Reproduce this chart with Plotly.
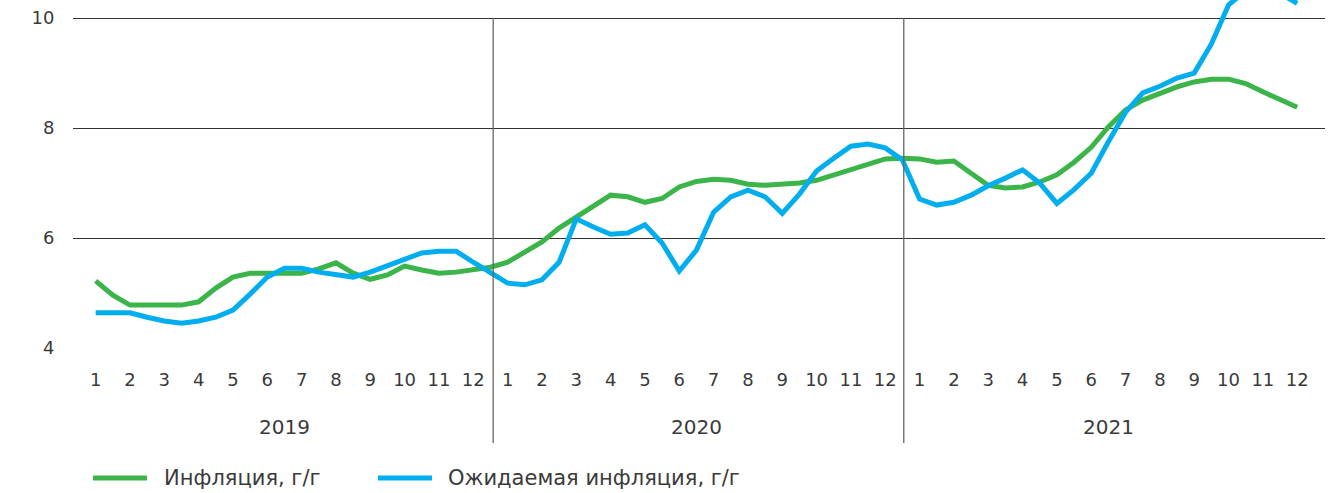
import plotly.graph_objects as go

years = ["2019", "2020", "2021"]
months = [str(m) for m in range(1, 13)]

# half-month steps starting at Jan 2019 (index in months, 0 = Jan 2019)
inflation = [
    5.22, 4.96, 4.78, 4.78, 4.78, 4.78, 4.84, 5.09, 5.29, 5.36, 5.36, 5.36,
    5.36, 5.44, 5.55, 5.36, 5.25, 5.33, 5.49, 5.42, 5.36, 5.38, 5.42, 5.47,
    5.56, 5.75, 5.93, 6.18, 6.38, 6.56, 6.78, 6.75, 6.65, 6.72, 6.93, 7.03,
    7.07, 7.05, 6.98, 6.96, 6.97, 7.00, 7.05, 7.15, 7.24, 7.33, 7.44, 7.45,
    7.44, 7.38, 7.40, 7.18, 6.96, 6.91, 6.93, 7.02, 7.15, 7.38, 7.65, 8.02,
    8.33, 8.51, 8.63, 8.75, 8.84, 8.89, 8.89, 8.81, 8.66, 8.52, 8.38,
]
expected = [
    4.64, 4.64, 4.64, 4.56, 4.49, 4.45, 4.49, 4.56, 4.69, 4.98, 5.29, 5.45,
    5.45, 5.38, 5.33, 5.29, 5.38, 5.49, 5.60, 5.73, 5.76, 5.76, 5.56, 5.38,
    5.18, 5.15, 5.24, 5.56, 6.35, 6.20, 6.07, 6.09, 6.24, 5.91, 5.40, 5.78,
    6.47, 6.75, 6.87, 6.75, 6.45, 6.80, 7.22, 7.45, 7.67, 7.71, 7.64, 7.42,
    6.71, 6.60, 6.65, 6.78, 6.95, 7.09, 7.24, 7.00, 6.63, 6.88, 7.18, 7.75,
    8.29, 8.64, 8.76, 8.91, 9.00, 9.53, 10.24, 10.50, 10.60, 10.45, 10.27,
]
series_names = ["Инфляция, г/г", "Ожидаемая инфляция, г/г"]
colors = ["#3BB54A", "#00AEEF"]

x_pos = [k * 0.5 for k in range(len(inflation))]
tick_vals = list(range(len(years) * 12))
tick_text = [m for _ in years for m in months]

FONT = "DejaVu Sans"
TXT = "#3a3a3a"

fig = go.Figure()
for name, vals, col in zip(series_names, [inflation, expected], colors):
    fig.add_trace(go.Scatter(
        x=x_pos, y=vals, mode="lines", name=name,
        line=dict(color=col, width=5), showlegend=False,
    ))

fig.update_xaxes(
    range=[-0.66, 35.81], tickmode="array", tickvals=tick_vals, ticktext=tick_text,
    showgrid=False, zeroline=False, showline=False,
    ticks="outside", ticklen=15, tickcolor="rgba(0,0,0,0)",
    tickfont=dict(family=FONT, size=18, color=TXT),
)
fig.update_yaxes(
    range=[4, 10.33], tickvals=[4, 6, 8, 10],
    showgrid=True, gridcolor="#333333", gridwidth=1, zeroline=False, showline=False,
    ticks="outside", ticklen=14, tickcolor="rgba(0,0,0,0)",
    tickfont=dict(family=FONT, size=18, color=TXT),
)

shapes = []
annotations = []
# year separators
for b in [11.58, 23.54]:
    shapes.append(dict(type="line", xref="x", yref="paper", x0=b, x1=b,
                       y0=-0.273, y1=(348 - 18) / 348,
                       line=dict(color="#666666", width=1.3)))
# year labels
for i, yr in enumerate(years):
    annotations.append(dict(x=i * 12 + 5.5, y=(348 - 427) / 348, xref="x", yref="paper",
                            text=yr, showarrow=False, yanchor="middle", xanchor="center",
                            font=dict(family=FONT, size=20, color=TXT)))
# legend
leg_y = (348 - 478) / 348
leg_items = [(93, 147, 162), (378, 432, 446)]
for (xa, xb, xt), name, col in zip(leg_items, series_names, colors):
    shapes.append(dict(type="line", xref="paper", yref="paper",
                       x0=(xa - 73) / 1252, x1=(xb - 73) / 1252, y0=leg_y, y1=leg_y,
                       line=dict(color=col, width=5)))
    annotations.append(dict(x=(xt - 73) / 1252, y=leg_y, xref="paper", yref="paper",
                            text=name, showarrow=False, xanchor="left", yanchor="middle",
                            font=dict(family=FONT, size=21, color=TXT)))

fig.update_layout(
    width=1332, height=493,
    margin=dict(l=73, r=7, t=0, b=145),
    plot_bgcolor="white", paper_bgcolor="white",
    shapes=shapes, annotations=annotations,
    showlegend=False,
)

fig.write_html("out.html", config={"displayModeBar": False},
               post_script="document.body.style.margin='0';")
